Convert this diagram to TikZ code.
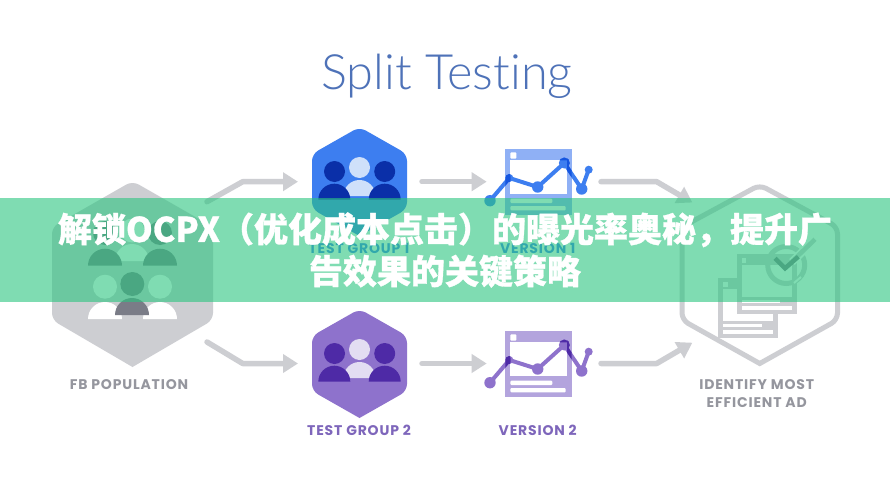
\documentclass[tikz,border=0pt]{standalone}
\usepackage{fontspec}
\setmainfont{Poppins}[LetterSpace=6]
\newfontfamily\titlefont{Lato Light}[Ligatures=NoCommon]
\newfontfamily\cjk{Noto Sans CJK SC}[BoldFeatures={FakeBold=0.9}]
\usetikzlibrary{arrows.meta}
\definecolor{greyfill}{HTML}{CDCED2}
\definecolor{greydark}{HTML}{7A7C87}
\definecolor{greytext}{HTML}{95969E}
\definecolor{bluehex}{HTML}{3D7EF0}
\definecolor{bluedark}{HTML}{0A2FA8}
\definecolor{bluelight}{HTML}{CFE0FA}
\definecolor{bluepale}{HTML}{8FB0F5}
\definecolor{bluedeep}{HTML}{1555DF}
\definecolor{purplehex}{HTML}{8E72CC}
\definecolor{purpledark}{HTML}{4E2AA6}
\definecolor{purplelight}{HTML}{E3DDF2}
\definecolor{purplepale}{HTML}{B3A4DD}
\definecolor{purpletext}{HTML}{7E66BB}
\definecolor{titleblue}{HTML}{4E72B8}
\definecolor{bannerc}{HTML}{2AC57F}
\tikzset{
  flow/.style={draw=greyfill,line width=5.5pt,line cap=round,line join=round,-{Triangle[length=15pt,width=18pt]}},
  lab/.style={font=\bfseries\fontsize{14}{18}\selectfont,inner sep=0pt,align=center},
}
\newcommand\hexshape[7]{% style, left, right, top, sh1, sh2, bottom
  \path[#1] ({(#2+#3)/2},#7) [rounded corners=7pt] -- (#2,#6) -- (#2,#5) -- ({(#2+#3)/2},#4) -- (#3,#5) -- (#3,#6) [sharp corners] -- ({(#2+#3)/2},#7) -- cycle;}
\newcommand\dome[4]{\fill[#4] (#1-#3,#2) arc[start angle=180,end angle=0,radius=#3 pt] -- cycle;}
\newcommand\peoplegroup[3]{% dy, side, mid
  \begin{scope}[yshift=#1pt]
    \fill[#3] (359.5,349.5) circle[radius=10.5pt];
    \fill[#2] (334.5,353.5) circle[radius=10.5pt];
    \fill[#2] (384.7,353.5) circle[radius=10.5pt];
    \dome{359.5}{378}{16}{#3}
    \dome{334.3}{381.7}{16}{#2}
    \dome{384.7}{381.7}{16}{#2}
  \end{scope}}
\newcommand\chartline[3]{%
  \draw[#1,line width=4pt,line join=round] (490,382.7) -- (509.3,360) -- (537.7,369) -- (564.3,345) -- (581.7,371) -- (588.7,351.7);
  \fill[#2] (490,382.7) circle[radius=5.7pt] (537.7,369) circle[radius=5.7pt] (581.7,371) circle[radius=5.7pt] (564.3,345) circle[radius=5.5pt];
  \fill[#3] (509.3,360) circle[radius=4pt] (588.7,351.7) circle[radius=4pt];}
\newcommand\versionicon[4]{% dy, pale, line, deep
  \begin{scope}[yshift=#1pt]
    \fill[#2] (505.3,330.7) rectangle (571.7,397.3);
    \fill[white] (510.3,342.3) rectangle (567,376);
    \fill[white,rounded corners=1pt] (510.3,334.3) rectangle (516.3,340.7);
    \fill[white,rounded corners=1pt] (510.3,380.7) rectangle (552.3,385);
    \fill[white,rounded corners=1pt] (510.3,388) rectangle (565.7,392.3);
    \chartline{#3}{#3}{#3}
    \begin{scope}
      \clip (505.3,330.7) rectangle (571.7,342.3) (505.3,342.3) rectangle (510.3,397.3);
      \chartline{#4}{#4}{#4}
    \end{scope}
    \begin{scope}
      \clip (567,330.7) rectangle (571.7,397.3);
      \chartline{#4}{#4}{#4}
    \end{scope}
  \end{scope}}
\newcommand\docicon[2]{% dx, dy : document of size 60
  \begin{scope}[shift={(#1pt,#2pt)}]
    \fill[greyfill] (736.7,254) rectangle (796.7,314);
    \fill[white] (741.7,265) rectangle (791.7,296.7);
    \fill[white] (741.7,258) rectangle (746,262.7);
    \fill[white] (741.7,299.5) rectangle (780,302.5);
    \fill[white] (741.7,306) rectangle (791.7,310);
  \end{scope}}
\begin{document}
\begin{tikzpicture}[x=1pt,y=-1pt]
\useasboundingbox (0,0) rectangle (890,500);
\fill[white] (0,0) rectangle (890,500);

% title
\node[font=\titlefont\fontsize{48.7}{52}\selectfont,text=titleblue,inner sep=0pt,anchor=base] (title) at (447,90) {Split Testing};

% FB population hexagon
\hexshape{fill=greyfill}{52}{213}{181}{227}{320}{367}
\begin{scope}
  \fill[white] (132.3,230.5) circle[radius=12pt];
  \fill[greydark] (105,233) circle[radius=12pt] (160,233) circle[radius=12pt];
  \dome{132}{261}{17}{white}
  \dome{105}{265.7}{17}{greydark}
  \dome{160}{265.7}{17}{greydark}
  \fill[white] (105,286.7) circle[radius=12pt] (160,286.7) circle[radius=12pt];
  \fill[greydark] (132.3,284) circle[radius=12pt];
  \dome{105}{319}{17}{white}
  \dome{160}{319}{17}{white}
  \dome{132}{315}{17}{greydark}
\end{scope}
\node[lab,text=greytext] (fb) at (129,384.5) {FB POPULATION};

% test groups
\hexshape{fill=bluehex}{312}{407}{127}{154}{209}{236}
\peoplegroup{182}{bluedark}{bluelight}
\node[lab,text=bluehex] (tg1) at (359,248) {TEST GROUP 1};
\hexshape{fill=purplehex}{312}{407}{309}{336}{391}{418}
\peoplegroup{0}{purpledark}{purplelight}
\node[lab,text=purpletext] (tg2) at (359,430) {TEST GROUP 2};

% versions
\versionicon{182}{bluepale}{bluehex}{bluedeep}
\node[lab,text=bluehex] (v1) at (537.7,248) {VERSION 1};
\versionicon{0}{purplepale}{purplehex}{purpledark}
\node[lab,text=purpletext] (v2) at (537.7,430) {VERSION 2};

% result hexagon
\hexshape{draw=greyfill,line width=5pt}{682}{837.5}{185}{227}{320}{363.5}
\docicon{-18.4}{-24}
\docicon{0}{0}
\draw[greyfill,line width=5pt] (786.2,265) circle[radius=18.5pt];
\draw[white,line width=8pt] (792,262) -- (815,239.3);
\draw[greyfill,line width=4.5pt] (785,268.3) -- (815,239.3);
\draw[greydark,line width=4.5pt] (775,258.3) -- (785,268.3) -- (798.3,256.7);
\draw[white,line width=2pt] (794,283) -- (801,277);
\node[lab,text=greytext] (best) at (756.7,394) {IDENTIFY MOST\\[0pt]EFFICIENT AD};

% connectors
\coordinate (a1s) at (207,201.7); \coordinate (a1m) at (242.7,181.7); \coordinate (a1e) at (298,181.7);
\coordinate (a2s) at (207,342); \coordinate (a2m) at (242.7,363.5); \coordinate (a2e) at (298,363.5);
\coordinate (b1s) at (422,181.7); \coordinate (b1e) at (486.7,181.7);
\coordinate (b2s) at (422,363.5); \coordinate (b2e) at (486.7,363.5);
\coordinate (c1s) at (601,181.7); \coordinate (c1m) at (656.7,181.7); \coordinate (c1e) at (692.3,202.5);
\coordinate (c2s) at (601,363.5); \coordinate (c2m) at (656.7,363.5); \coordinate (c2e) at (692.3,342.7);
\draw[flow] (a1s) -- (a1m) -- (a1e);
\draw[flow] (a2s) -- (a2m) -- (a2e);
\draw[flow] (b1s) -- (b1e);
\draw[flow] (b2s) -- (b2e);
\draw[flow] (c1s) -- (c1m) -- (c1e);
\draw[flow] (c2s) -- (c2m) -- (c2e);

% banner
\fill[bannerc,fill opacity=.6] (0,198) rectangle (890,302);
\node[font=\cjk\bfseries\fontsize{34}{42}\selectfont,text=white,align=center,inner sep=0pt] (banner) at (445,250) {解锁OCPX（优化成本点击）的曝光率奥秘，提升广\\告效果的关键策略};
\end{tikzpicture}
\end{document}
